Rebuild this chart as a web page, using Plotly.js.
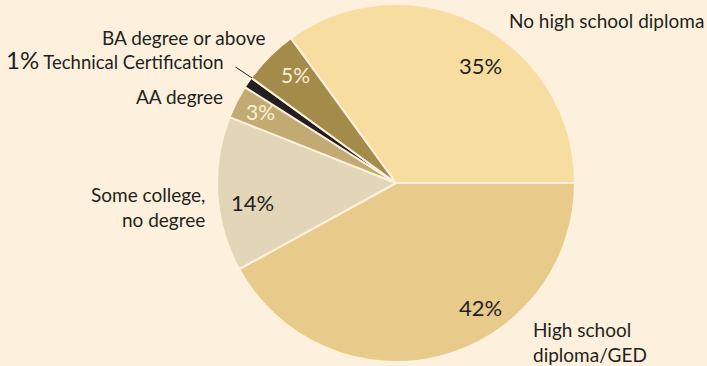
<!DOCTYPE html>
<html>
<head>
<meta charset="utf-8">
<script src="https://cdn.plot.ly/plotly-3.0.1.min.js"></script>
<style>html,body{margin:0;padding:0;background:#fdf1dd;}#chart{width:707px;height:366px;}</style>
</head>
<body>
<div id="chart"></div>
<script>
const categories = ["No high school diploma", "High school diploma/GED", "Some college, no degree", "AA degree", "Technical Certification", "BA degree or above"];
const values = [35, 42, 14, 3, 1, 5];
const colors = ["#f7dea0", "#e8cb8a", "#e3d5b7", "#c2aa73", "#231f20", "#a38b4a"];
const textColors = ["#231f20", "#231f20", "#231f20", "#fbefd6", "#231f20", "#fbefd6"];
const percentLabels = values.map(v => v + "%");

const W = 707, H = 366;
function px(x){return x / W;}
function py(y){return 1 - y / H;}
const font = "Lato, 'Open Sans', sans-serif";
const dark = "#231f20";

const trace = {
  type: "pie",
  labels: categories,
  values: values,
  textinfo: "none",
  marker: {colors: colors, line: {color: "#fdf1dd", width: 2}},
  sort: false,
  direction: "clockwise",
  rotation: -36,
  hoverinfo: "none",
  showlegend: false,
  domain: {x: [px(217), px(575)], y: [py(362), py(4)]}
};

// percent label placement (layout only)
const pctPos = [[480, 66], [480, 307], [253, 203], [260, 111], null, [295, 74]];
const annotations = [];
pctPos.forEach((p, i) => {
  if (!p) return;
  annotations.push({x: px(p[0]), y: py(p[1]), xanchor: "center", yanchor: "middle", text: percentLabels[i], showarrow: false,
    font: {family: font, size: i >= 3 ? 21 : 22, color: textColors[i]}});
});

const lab = 19;
annotations.push(
  {x: px(706), y: py(21), xanchor: "right", yanchor: "middle", text: categories[0], showarrow: false, font: {family: font, size: lab, color: dark}},
  {x: px(268), y: py(37), xanchor: "right", yanchor: "middle", text: categories[5], showarrow: false, font: {family: font, size: lab, color: dark}},
  {x: px(226), y: py(60), xanchor: "right", yanchor: "middle", text: "<span style='font-size:24px'>" + percentLabels[4] + "</span> " + categories[4], showarrow: false, font: {family: font, size: 18.5, color: dark}},
  {x: px(225), y: py(96), xanchor: "right", yanchor: "middle", text: categories[3], showarrow: false, font: {family: font, size: lab, color: dark}},
  {x: px(207), y: py(207), xanchor: "right", yanchor: "middle", align: "right", text: "Some college,<br>no degree", showarrow: false, font: {family: font, size: lab, color: dark}},
  {x: px(531), y: py(342), xanchor: "left", yanchor: "middle", align: "left", text: "High school<br>diploma/GED", showarrow: false, font: {family: font, size: lab, color: dark}},
  {x: px(252), y: py(78), ax: -18, ay: -12, axref: "pixel", ayref: "pixel", text: "", showarrow: true, arrowhead: 0, arrowwidth: 1, arrowcolor: dark, standoff: 0, startstandoff: 0}
);

const layout = {
  width: W, height: H,
  margin: {l: 0, r: 0, t: 0, b: 0},
  paper_bgcolor: "#fdf1dd",
  plot_bgcolor: "#fdf1dd",
  showlegend: false,
  annotations: annotations
};

Plotly.newPlot("chart", [trace], layout, {displayModeBar: false, staticPlot: true});
</script>
</body>
</html>
